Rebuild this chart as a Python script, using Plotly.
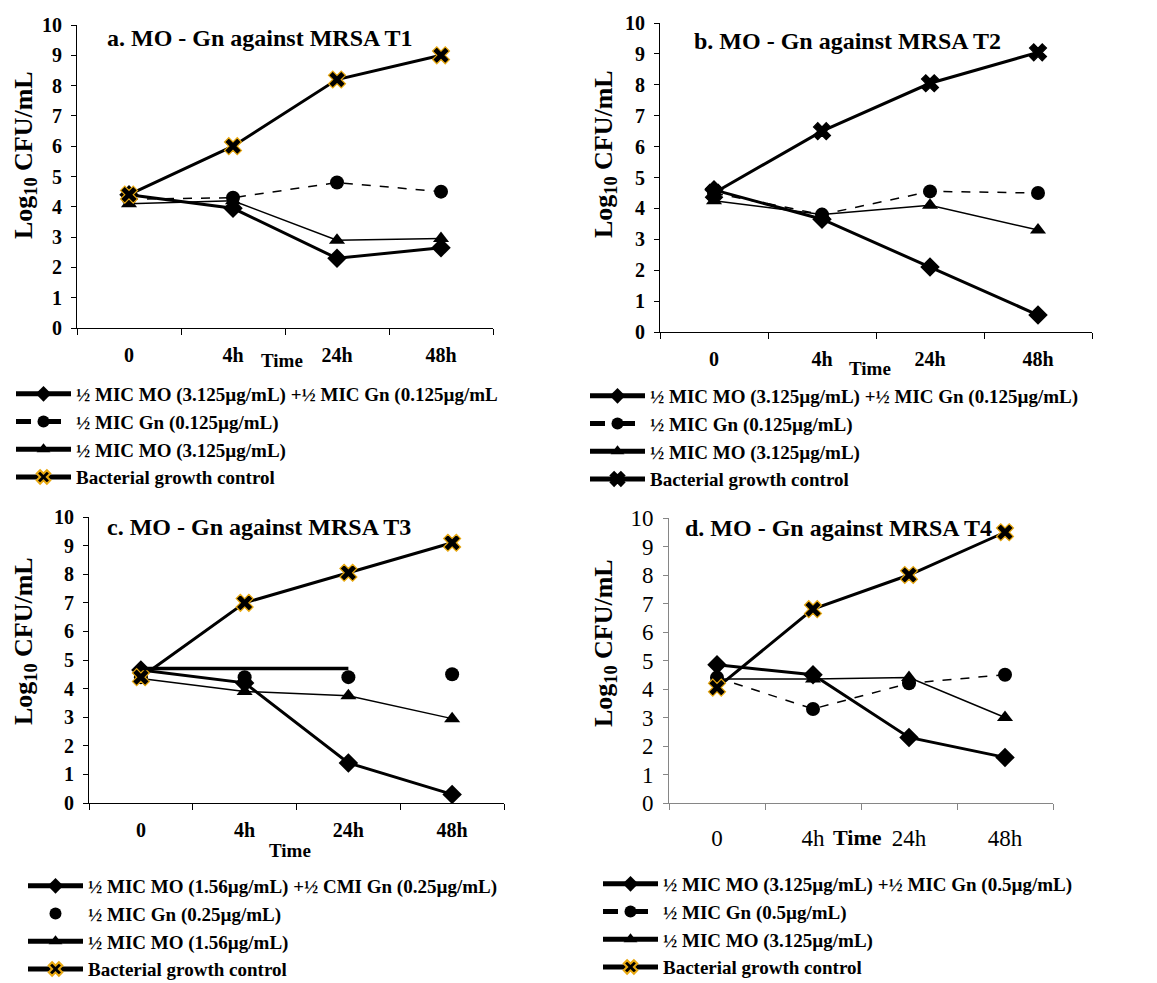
import plotly.graph_objects as go

W, H = 1157, 983
times = ["0", "4h", "24h", "48h"]

# Panel a (T1)
a_combo = [4.4, 3.95, 2.3, 2.65]
a_gn = [4.25, 4.3, 4.8, 4.5]
a_mo = [4.1, 4.2, 2.9, 2.95]
a_ctrl = [4.4, 6.0, 8.2, 9.0]
# Panel b (T2)
b_combo = [4.6, 3.65, 2.1, 0.55]
b_gn = [4.5, 3.8, 4.55, 4.5]
b_mo = [4.25, 3.8, 4.1, 3.3]
b_ctrl = [4.5, 6.5, 8.05, 9.05]
# Panel c (T3)
c_combo = [4.65, 4.2, 1.4, 0.3]
c_gn = [4.4, 4.4, 4.4, 4.5]
c_mo = [4.35, 3.9, 3.75, 2.95]
c_ctrl = [4.4, 7.0, 8.05, 9.1]
c_extra = [4.7, 4.7, 4.7]
# Panel d (T4)
d_combo = [4.85, 4.5, 2.3, 1.6]
d_gn = [4.4, 3.3, 4.2, 4.5]
d_mo = [4.35, 4.35, 4.4, 3.0]
d_ctrl = [4.05, 6.8, 8.0, 9.5]

titles = ["a. MO - Gn against MRSA T1", "b. MO - Gn against MRSA T2",
          "c. MO - Gn against MRSA T3", "d. MO - Gn against MRSA T4"]
legend_names = [
    ["½ MIC MO (3.125µg/mL) +½ MIC Gn (0.125µg/mL", "½ MIC Gn (0.125µg/mL)",
     "½ MIC MO (3.125µg/mL)", "Bacterial growth control"],
    ["½ MIC MO (3.125µg/mL) +½ MIC Gn (0.125µg/mL)", "½ MIC Gn (0.125µg/mL)",
     "½ MIC MO (3.125µg/mL)", "Bacterial growth control"],
    ["½ MIC MO (1.56µg/mL) +½ CMI Gn (0.25µg/mL)", "½ MIC Gn (0.25µg/mL)",
     "½ MIC MO (1.56µg/mL)", "Bacterial growth control"],
    ["½ MIC MO (3.125µg/mL) +½ MIC Gn (0.5µg/mL)", "½ MIC Gn (0.5µg/mL)",
     "½ MIC MO (3.125µg/mL)", "Bacterial growth control"],
]

FONT = "Liberation Serif"
GOLD = "#E8A810"
OFF = 8  # page body margin

def px(x):
    return (x - OFF) / W

def py(y):
    return 1 - (y - OFF) / H

fig = go.Figure()

panels = [
    dict(data=(a_combo, a_gn, a_mo, a_ctrl), gn_line=True, ctrl_gold=True),
    dict(data=(b_combo, b_gn, b_mo, b_ctrl), gn_line=True, ctrl_gold=False),
    dict(data=(c_combo, c_gn, c_mo, c_ctrl), gn_line=False, ctrl_gold=True),
    dict(data=(d_combo, d_gn, d_mo, d_ctrl), gn_line=True, ctrl_gold=True),
]

for i, p in enumerate(panels):
    sfx = "" if i == 0 else str(i + 1)
    xa, ya = "x" + sfx, "y" + sfx
    lg = "legend" + sfx
    combo, gn, mo, ctrl = p["data"]
    names = legend_names[i]
    fig.add_trace(go.Scatter(x=times, y=combo, name=names[0], xaxis=xa, yaxis=ya, legend=lg,
                             mode="lines+markers", line=dict(color="black", width=3),
                             marker=dict(symbol="diamond", size=15, color="black")))
    fig.add_trace(go.Scatter(x=times, y=gn, name=names[1], xaxis=xa, yaxis=ya, legend=lg,
                             mode="lines+markers" if p["gn_line"] else "markers",
                             line=dict(color="black", width=1.5, dash="dash"),
                             marker=dict(symbol="circle", size=14, color="black")))
    fig.add_trace(go.Scatter(x=times, y=mo, name=names[2], xaxis=xa, yaxis=ya, legend=lg,
                             mode="lines+markers", line=dict(color="black", width=1.5),
                             marker=dict(symbol="triangle-up", size=14, color="black")))
    fig.add_trace(go.Scatter(x=times, y=ctrl, name=names[3], xaxis=xa, yaxis=ya, legend=lg,
                             mode="lines+markers", line=dict(color="black", width=3),
                             marker=dict(symbol="x", size=15, color="black",
                                         line=dict(color=GOLD if p["ctrl_gold"] else "black",
                                                   width=1.2))))
    if i == 2:
        fig.add_trace(go.Scatter(x=times[:3], y=c_extra, xaxis=xa, yaxis=ya, showlegend=False,
                                 mode="lines", line=dict(color="black", width=3.5),
                                 hoverinfo="skip"))

# axis geometry (pixels): x0, x1, y_top(10), y_bottom(0)
geo = [(77, 493, 25, 328), (660, 1092, 23, 332), (89, 504, 517, 803), (669, 1053, 518, 803)]
layout = {}
for i, (x0, x1, yt, yb) in enumerate(geo):
    sfx = "" if i == 0 else str(i + 1)
    bold = i != 3
    tf = dict(family=FONT, size=20 if bold else 23, color="black",
              weight="bold" if bold else "normal")
    lc = "black" if bold else "#868686"
    layout["xaxis" + sfx] = dict(
        domain=[px(x0), px(x1)], anchor="y" + sfx, type="category",
        range=[-0.5, 3.5], tickson="boundaries", ticks="outside", ticklen=6,
        tickcolor=lc, showline=True, linecolor=lc, linewidth=1,
        showgrid=False, zeroline=False, tickfont=tf, automargin=False,
        ticklabelstandoff=9 if bold else 14)
    layout["yaxis" + sfx] = dict(
        domain=[py(yb), py(yt)], anchor="x" + sfx, range=[0, 10], dtick=1,
        ticks="outside", ticklen=5, tickcolor=lc, showline=True,
        linecolor=lc, linewidth=1, showgrid=False, zeroline=False,
        tickfont=tf, ticklabelstandoff=5, automargin=False)

leg_pos = [(11, 375), (585, 377), (23, 867), (598, 865)]
for i, (lx, ly) in enumerate(leg_pos):
    sfx = "" if i == 0 else str(i + 1)
    layout["legend" + sfx] = dict(
        x=px(lx), y=py(ly), xanchor="left", yanchor="top",
        font=dict(family=FONT, size=19, color="black", weight="bold"),
        itemwidth=55, itemsizing="constant", bgcolor="rgba(0,0,0,0)",
        tracegroupgap=0, traceorder="normal")

annos = []
title_pos = [(105, 38), (692, 41), (105, 527), (683, 528)]
for t, (tx, ty) in zip(titles, title_pos):
    annos.append(dict(text=t, x=px(tx), y=py(ty), xref="paper", yref="paper",
                      xanchor="left", yanchor="middle", showarrow=False,
                      font=dict(family=FONT, size=24, color="black", weight="bold")))
ytitle_pos = [(25, 155), (605, 154), (25, 641), (605, 643)]
for tx, ty in ytitle_pos:
    annos.append(dict(text="Log<sub>10</sub> CFU/mL", x=px(tx), y=py(ty), xref="paper",
                      yref="paper", xanchor="center", yanchor="middle", textangle=-90,
                      showarrow=False,
                      font=dict(family=FONT, size=26, color="black", weight="bold")))
time_pos = [(282, 360, 19), (870, 368, 19), (290, 850, 19), (858, 837, 22)]
for tx, ty, fs in time_pos:
    annos.append(dict(text="Time", x=px(tx), y=py(ty), xref="paper", yref="paper",
                      xanchor="center", yanchor="middle", showarrow=False,
                      font=dict(family=FONT, size=fs, color="black", weight="bold")))

fig.update_layout(width=W, height=H,
                  margin=dict(l=0, r=0, t=0, b=0, autoexpand=False),
                  plot_bgcolor="white", paper_bgcolor="white",
                  annotations=annos, **layout)

fig.write_html("out.html")
